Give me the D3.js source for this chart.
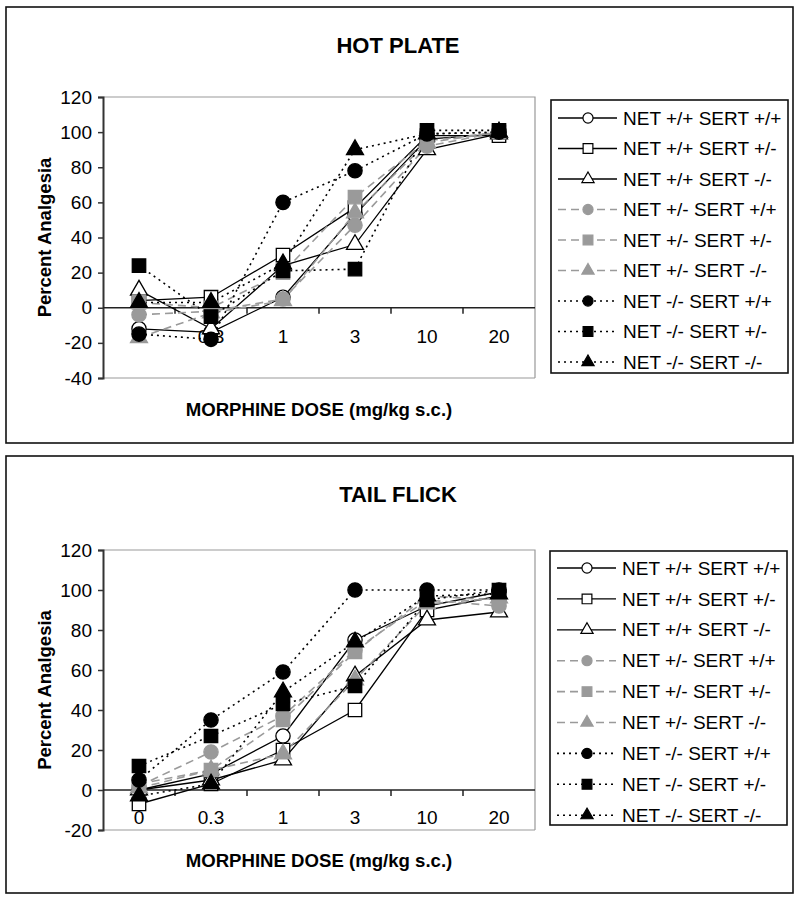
<!DOCTYPE html>
<html>
<head>
<meta charset="utf-8">
<script src="https://cdn.jsdelivr.net/npm/d3@7"></script>
<style>
  html, body { margin: 0; padding: 0; background: #fff; }
  svg { display: block; font-family: "Liberation Sans", Arial, sans-serif; }
</style>
</head>
<body>
<svg id="chart" width="800" height="901"></svg>
<script>
// ---------------- DATA ----------------
const categories = ["0", "0.3", "1", "3", "10", "20"];
const seriesNames = [
  "NET +/+ SERT +/+", "NET +/+ SERT +/-", "NET +/+ SERT -/-",
  "NET +/- SERT +/+", "NET +/- SERT +/-", "NET +/- SERT -/-",
  "NET -/- SERT +/+", "NET -/- SERT +/-", "NET -/- SERT -/-"
];
const yTicksHot = [-40, -20, 0, 20, 40, 60, 80, 100, 120];
const yTicksTail = [-20, 0, 20, 40, 60, 80, 100, 120];

// Hot plate (% analgesia) per genotype
const hotWtWt   = [-12, -14, 6, 53, 96, 99];
const hotWtHet  = [4, 6, 30, 57, 98, 98];
const hotWtKo   = [10, -12, 24, 36, 90, 99];
const hotHetWt  = [-4, -2, 5, 47, 92, 100];
const hotHetHet = [3, 0, 20, 63, 95, 100];
const hotHetKo  = [-17, -3, 4, 54, 94, 100];
const hotKoWt   = [-15, -18, 60, 78, 99, 100];
const hotKoHet  = [24, -5, 21, 22, 101, 101];
const hotKoKo   = [3, 3, 25, 90, 99, 100];

// Tail flick (% analgesia) per genotype
const tailWtWt   = [0, 8, 27, 75, 92, 99];
const tailWtHet  = [-7, 3, 20, 40, 90, 97];
const tailWtKo   = [0, 5, 15, 57, 85, 89];
const tailHetWt  = [2, 19, 37, 70, 95, 92];
const tailHetHet = [3, 10, 35, 69, 97, 95];
const tailHetKo  = [1, 10, 18, 55, 93, 96];
const tailKoWt   = [5, 35, 59, 100, 100, 100];
const tailKoHet  = [12, 27, 43, 52, 95, 100];
const tailKoKo   = [-3, 3, 49, 74, 97, 98];

const hotSeries = [hotWtWt, hotWtHet, hotWtKo, hotHetWt, hotHetHet, hotHetKo, hotKoWt, hotKoHet, hotKoKo];
const tailSeries = [tailWtWt, tailWtHet, tailWtKo, tailHetWt, tailHetHet, tailHetKo, tailKoWt, tailKoHet, tailKoKo];

// ---------------- STYLES ----------------
const GRAY = "#9a9a9a";
const shapes = [d3.symbolCircle, d3.symbolSquare, d3.symbolTriangle];
function styleOf(i) {
  const grp = Math.floor(i / 3);
  const shape = shapes[i % 3];
  if (grp === 0) return { shape, fill: "#fff", stroke: "#000", line: "#000", dash: null, lw: 1.3 };
  if (grp === 1) return { shape, fill: GRAY, stroke: GRAY, line: GRAY, dash: "8,5", lw: 1.6 };
  return { shape, fill: "#000", stroke: "#000", line: "#000", dash: "2,4", lw: 1.6 };
}
function symSize(shape, big) {
  if (shape === d3.symbolCircle) return big ? 160 : 80;
  if (shape === d3.symbolSquare) return big ? 180 : 95;
  return big ? 125 : 65;
}

const svg = d3.select("#chart");

function drawPanel(cfg) {
  const g = svg.append("g");
  // outer frame
  g.append("rect").attr("x", cfg.box.x).attr("y", cfg.box.y)
    .attr("width", cfg.box.w).attr("height", cfg.box.h)
    .attr("fill", "none").attr("stroke", "#111").attr("stroke-width", 1.6);

  // title
  g.append("text").attr("x", 398).attr("y", cfg.titleY)
    .attr("text-anchor", "middle").attr("font-weight", "bold")
    .attr("font-size", 22).text(cfg.title);

  const x = d3.scaleBand().domain(categories).range([cfg.plot.left, cfg.plot.right]).padding(0);
  const y = d3.scaleLinear().domain(cfg.yDomain).range([cfg.plot.bottom, cfg.plot.top]);
  const cx = c => x(c) + x.bandwidth() / 2;

  // plot area border (top & right, gray)
  g.append("path")
    .attr("d", `M${cfg.plot.left},${cfg.plot.top}H${cfg.plot.right}V${cfg.plot.bottom}`)
    .attr("fill", "none").attr("stroke", "#999").attr("stroke-width", 1.2);
  g.append("line").attr("x1", cfg.plot.left).attr("x2", cfg.plot.right)
    .attr("y1", cfg.plot.bottom).attr("y2", cfg.plot.bottom)
    .attr("stroke", "#999").attr("stroke-width", 1.2);

  // y axis
  const yAxis = d3.axisLeft(y).tickValues(cfg.yTicks).tickSize(5).tickPadding(6).tickFormat(d => String(d));
  const ya = g.append("g").attr("transform", `translate(${cfg.plot.left},0)`).call(yAxis);
  ya.select(".domain").attr("stroke", "#333").attr("stroke-width", 2);
  ya.selectAll(".tick line").attr("stroke", "#333").attr("stroke-width", 1.5);
  ya.selectAll(".tick text").attr("font-size", 19).attr("fill", "#000")
    .attr("font-family", "Liberation Sans, Arial, sans-serif");

  // y title
  g.append("text")
    .attr("transform", `translate(${cfg.yTitleX},${(cfg.plot.top + cfg.plot.bottom) / 2}) rotate(-90)`)
    .attr("text-anchor", "middle").attr("font-weight", "bold").attr("font-size", 18.5)
    .attr("dy", "0.35em").text("Percent Analgesia");

  // x axis at y = 0
  const y0 = y(0);
  g.append("line").attr("x1", cfg.plot.left).attr("x2", cfg.plot.right)
    .attr("y1", y0).attr("y2", y0).attr("stroke", "#222").attr("stroke-width", 1.5);
  const edges = categories.map(c => x(c) + x.bandwidth()).slice(0, -1);
  g.selectAll(".xt").data(edges).enter().append("line")
    .attr("x1", d => d).attr("x2", d => d)
    .attr("y1", y0).attr("y2", y0 + 6).attr("stroke", "#222").attr("stroke-width", 1.5);
  g.selectAll(".xl").data(categories).enter().append("text")
    .attr("x", d => cx(d)).attr("y", cfg.xLabelY)
    .attr("text-anchor", "middle").attr("font-size", 19).text(d => d);

  // x title
  g.append("text").attr("x", (cfg.plot.left + cfg.plot.right) / 2).attr("y", cfg.xTitleY)
    .attr("text-anchor", "middle").attr("font-weight", "bold").attr("font-size", 18.6)
    .text("MORPHINE DOSE (mg/kg s.c.)");

  // lines
  const line = d3.line().x((d, i) => cx(categories[i])).y(d => y(d));
  cfg.series.forEach((vals, i) => {
    const s = styleOf(i);
    g.append("path").attr("d", line(vals)).attr("fill", "none")
      .attr("stroke", s.line).attr("stroke-width", s.lw)
      .attr("stroke-dasharray", s.dash);
  });
  // markers
  cfg.series.forEach((vals, i) => {
    const s = styleOf(i);
    const sym = d3.symbol().type(s.shape).size(symSize(s.shape, true));
    g.selectAll(null).data(vals).enter().append("path")
      .attr("d", sym)
      .attr("transform", (d, j) => `translate(${cx(categories[j])},${y(d)})`)
      .attr("fill", s.fill).attr("stroke", s.stroke).attr("stroke-width", 1.3);
  });

  // legend
  const L = cfg.legend;
  g.append("rect").attr("x", L.x).attr("y", L.y).attr("width", L.w).attr("height", L.h)
    .attr("fill", "#fff").attr("stroke", "#111").attr("stroke-width", 1.6);
  seriesNames.forEach((name, i) => {
    const s = styleOf(i);
    const ry = L.row0 + i * L.step;
    g.append("line").attr("x1", L.x + 7).attr("x2", L.x + 66).attr("y1", ry).attr("y2", ry)
      .attr("stroke", s.line).attr("stroke-width", s.lw).attr("stroke-dasharray", s.dash);
    g.append("path").attr("d", d3.symbol().type(s.shape).size(symSize(s.shape, false)))
      .attr("transform", `translate(${L.x + 37},${ry})`)
      .attr("fill", s.fill).attr("stroke", s.stroke).attr("stroke-width", 1.2);
    g.append("text").attr("x", L.x + 72).attr("y", ry).attr("dy", "0.35em")
      .attr("font-size", 19).text(name);
  });
}

drawPanel({
  title: "HOT PLATE",
  box: { x: 6, y: 7, w: 787, h: 436 },
  titleY: 53,
  plot: { left: 103, right: 535, top: 97, bottom: 378 },
  yDomain: [-40, 120],
  yTicks: yTicksHot,
  yTitleX: 45,
  xLabelY: 343,
  xTitleY: 416,
  series: hotSeries,
  legend: { x: 551, y: 100, w: 237, h: 273, row0: 118, step: 30.5 }
});

drawPanel({
  title: "TAIL FLICK",
  box: { x: 6, y: 456, w: 787, h: 437 },
  titleY: 502,
  plot: { left: 103, right: 535, top: 550, bottom: 830 },
  yDomain: [-20, 120],
  yTicks: yTicksTail,
  yTitleX: 45,
  xLabelY: 824,
  xTitleY: 867,
  series: tailSeries,
  legend: { x: 550, y: 551, w: 237, h: 274, row0: 568, step: 30.9 }
});
</script>
</body>
</html>
